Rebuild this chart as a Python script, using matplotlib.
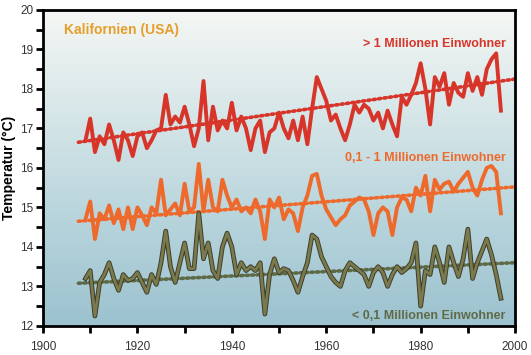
import numpy as np
import matplotlib
matplotlib.use('Agg')
from matplotlib import pyplot as plt
import matplotlib.patheffects as pe

plt.rcParams['font.family'] = ['Liberation Sans', 'DejaVu Sans']

# data (yearly mean temperature, degC)
years = np.arange(1909, 1998)

big = [16.7, 17.25, 16.4, 16.8, 16.6, 17.1, 16.7, 16.2, 16.9, 16.7,
       16.3, 16.8, 16.9, 16.5, 16.7, 16.95, 17.0, 17.85, 17.1, 17.3,
       17.15, 17.55, 17.1, 16.55, 17.0, 18.2, 16.7, 17.55, 16.95, 17.2,
       17.0, 17.65, 16.95, 17.3, 17.0, 16.45, 17.0, 17.2, 16.4, 16.9,
       17.0, 17.4, 17.0, 16.75, 17.2, 16.7, 17.3, 16.6, 17.5, 18.3,
       18.0, 17.7, 17.2, 17.35, 17.0, 16.7, 17.1, 17.6, 17.4, 17.6,
       17.5, 17.2, 17.4, 17.0, 17.45, 17.1, 16.8, 17.8, 17.6, 17.85,
       18.15, 18.65, 18.0, 17.1, 18.3, 18.05, 18.4, 17.6, 18.15, 17.9,
       17.8, 18.4, 17.95, 18.3, 17.85, 18.5, 18.75, 18.9, 17.45]

mid = [14.7, 15.15, 14.2, 14.85, 14.7, 15.05, 14.6, 14.95, 14.45, 15.0,
       14.45, 15.0, 14.8, 14.55, 15.0, 14.85, 15.7, 14.8, 14.95, 15.1,
       14.8, 15.6, 14.9, 15.0, 16.1, 14.9, 15.7, 15.0, 14.9, 15.7,
       15.3, 15.0, 15.2, 14.9, 15.0, 14.85, 15.2, 14.9, 14.2, 15.2,
       15.0, 15.25, 14.7, 14.95, 14.85, 14.4, 15.0, 15.3, 15.8, 15.85,
       15.3, 14.95, 14.75, 14.55, 14.7, 14.8, 15.05, 15.15, 15.25, 15.2,
       14.9, 14.3, 14.85, 15.0, 14.9, 14.3, 15.0, 15.25, 15.2, 14.9,
       15.5, 15.3, 15.8, 14.9, 15.7, 15.45, 15.6, 15.65, 15.4, 15.6,
       15.75, 15.9, 15.5, 15.3, 15.7, 16.0, 16.05, 15.9, 14.85]

small = [13.2, 13.4, 12.25, 13.1, 13.3, 13.6, 13.2, 12.9, 13.3, 13.15,
         13.2, 13.35, 13.1, 12.85, 13.3, 13.05, 13.6, 14.4, 13.5, 13.1,
         13.6, 14.1, 13.45, 13.45, 14.85, 13.7, 14.1, 13.4, 13.2, 14.0,
         14.35, 14.0, 13.3, 13.6, 13.4, 13.5, 13.4, 13.6, 12.3, 13.3,
         13.7, 13.35, 13.45, 13.4, 13.15, 12.85, 13.25, 13.6, 14.3, 14.2,
         13.75, 13.5, 13.25, 13.1, 13.0, 13.4, 13.6, 13.5, 13.4, 13.3,
         13.0, 13.35, 13.5, 13.35, 13.0, 13.3, 13.5, 13.35, 13.45, 13.6,
         14.1, 12.5, 13.4, 13.3, 14.0, 13.6, 13.1, 14.0, 13.6, 13.25,
         13.7, 14.45, 13.2, 13.6, 13.9, 14.2, 13.8, 13.3, 12.7]

# trend lines (start/end)
trend_years = [1907.5, 2000]
big_trend = [16.65, 18.25]
mid_trend = [14.65, 15.52]
small_trend = [13.08, 13.6]

red = '#d8352a'
orange = '#ee6a2c'

fig = plt.figure(figsize=(5.31, 3.55), dpi=100)
ax = fig.add_axes([0.081, 0.082, 0.889, 0.890])

# background gradient, light at the top to blue at the bottom
grad = np.linspace(0, 1, 256).reshape(-1, 1)
cmap = matplotlib.colors.LinearSegmentedColormap.from_list(
    'bg', ['#9cc2cf', '#b7d4dc', '#d6e6e8', '#f5f7f4'])
ax.imshow(grad, aspect='auto', cmap=cmap, origin='lower',
          extent=[1900, 2000, 12, 20], zorder=0)

ax.plot(trend_years, big_trend, color=red, lw=2.6, ls=(0, (0.6, 0.9)),
        dash_capstyle='round', zorder=2)
ax.plot(trend_years, mid_trend, color=orange, lw=2.6, ls=(0, (0.6, 0.9)),
        dash_capstyle='round', zorder=2)
ax.plot(trend_years, small_trend, color='#5d6a45', lw=2.6, ls=(0, (0.6, 0.9)),
        dash_capstyle='round', zorder=2)

ax.plot(years, big, color=red, lw=2.8, zorder=3, solid_joinstyle='round')
ax.plot(years, mid, color=orange, lw=2.8, zorder=3, solid_joinstyle='round')
ax.plot(years, small, color='#7a7a4c', lw=2.0, zorder=3, solid_joinstyle='round',
        path_effects=[pe.Stroke(linewidth=3.4, foreground='#3e3e2c'), pe.Normal()])

ax.text(1904.5, 19.5, 'Kalifornien (USA)', color='#e59f2a', fontsize=10,
        fontweight='bold', va='center')
ax.text(1998, 19.15, '> 1 Millionen Einwohner', color=red, fontsize=9,
        fontweight='bold', ha='right', va='center')
ax.text(1998, 16.25, '0,1 - 1 Millionen Einwohner', color=orange, fontsize=9,
        fontweight='bold', ha='right', va='center')
ax.text(1998, 12.25, '< 0,1 Millionen Einwohner', color='#5f6a48', fontsize=9,
        fontweight='bold', ha='right', va='center')

ax.set_xlim(1900, 2000)
ax.set_ylim(12, 20)
ax.set_xticks(np.arange(1900, 2001, 20))
ax.set_xticks(np.arange(1900, 2001, 10), minor=True)
ax.set_yticks(np.arange(12, 21, 1))
ax.set_yticks(np.arange(12, 20.1, 0.5), minor=True)
ax.tick_params(which='both', direction='out', width=2, color='black',
               labelsize=8.5, labelcolor='#333333')
ax.tick_params(which='major', length=5)
ax.tick_params(which='minor', length=5)
ax.tick_params(axis='x', pad=6)
ax.tick_params(axis='y', pad=2)
for s in ax.spines.values():
    s.set_linewidth(2)
ax.set_ylabel('Temperatur (°C)', fontsize=10, fontweight='bold')
ax.yaxis.set_label_coords(-0.057, 0.5)

fig.savefig('out.png', dpi=100)
